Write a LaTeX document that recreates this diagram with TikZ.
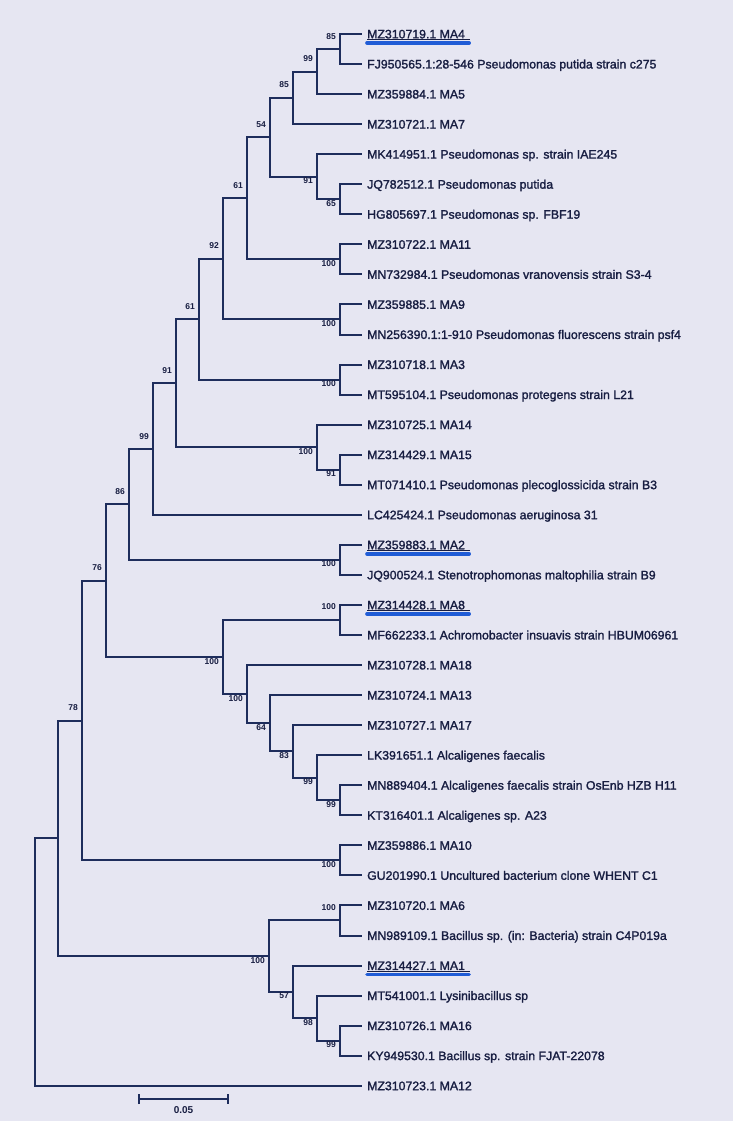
\documentclass[tikz,border=0pt]{standalone}
\usepackage{fontspec}
\setmainfont{Liberation Sans}
\newfontfamily\leaffont[BoldFont={Liberation Sans},BoldFeatures={FakeBold=1.6}]{Liberation Sans}
\usetikzlibrary{arrows.meta}
\definecolor{bg}{RGB}{230,230,242}
\definecolor{ln}{RGB}{30,45,92}
\definecolor{tx}{RGB}{24,30,66}
\definecolor{hl}{RGB}{32,92,214}
\begin{document}
\begin{tikzpicture}[x=1pt,y=-1pt,
  branch/.style={draw=ln,line width=2pt},
  leaf/.style={anchor=west,inner xsep=5pt,inner ysep=0pt,text=tx,
    font=\leaffont\bfseries\fontsize{12.3}{14}\selectfont,text height=8.8pt,text depth=0pt},
  bsa/.style={anchor=base east,inner sep=0pt,text=tx,
    font=\fontsize{8.5}{10}\bfseries\selectfont,xshift=-4pt,yshift=10pt},
  bsb/.style={bsa,yshift=-17pt},
  hlline/.style={draw=hl,line width=3.6pt,line cap=round},
  ulline/.style={draw=tx,line width=0.7pt}]
\fill[bg] (0,0) rectangle (733,1121);
\useasboundingbox (0,0) rectangle (733,1121);
% leaves
\foreach \i/\t in {
 0/{MZ310719.1 MA4},
 1/{FJ950565.1:28-546 Pseudomonas putida strain c275},
 2/{MZ359884.1 MA5},
 3/{MZ310721.1 MA7},
 4/{MK414951.1 Pseudomonas sp. strain IAE245},
 5/{JQ782512.1 Pseudomonas putida},
 6/{HG805697.1 Pseudomonas sp. FBF19},
 7/{MZ310722.1 MA11},
 8/{MN732984.1 Pseudomonas vranovensis strain S3-4},
 9/{MZ359885.1 MA9},
 10/{MN256390.1:1-910 Pseudomonas fluorescens strain psf4},
 11/{MZ310718.1 MA3},
 12/{MT595104.1 Pseudomonas protegens strain L21},
 13/{MZ310725.1 MA14},
 14/{MZ314429.1 MA15},
 15/{MT071410.1 Pseudomonas plecoglossicida strain B3},
 16/{LC425424.1 Pseudomonas aeruginosa 31},
 17/{MZ359883.1 MA2},
 18/{JQ900524.1 Stenotrophomonas maltophilia strain B9},
 19/{MZ314428.1 MA8},
 20/{MF662233.1 Achromobacter insuavis strain HBUM06961},
 21/{MZ310728.1 MA18},
 22/{MZ310724.1 MA13},
 23/{MZ310727.1 MA17},
 24/{LK391651.1 Alcaligenes faecalis},
 25/{MN889404.1 Alcaligenes faecalis strain OsEnb HZB H11},
 26/{KT316401.1 Alcaligenes sp. A23},
 27/{MZ359886.1 MA10},
 28/{GU201990.1 Uncultured bacterium clone WHENT C1},
 29/{MZ310720.1 MA6},
 30/{MN989109.1 Bacillus sp. (in: Bacteria) strain C4P019a},
 31/{MZ314427.1 MA1},
 32/{MT541001.1 Lysinibacillus sp},
 33/{MZ310726.1 MA16},
 34/{KY949530.1 Bacillus sp. strain FJAT-22078},
 35/{MZ310723.1 MA12}}
 \node[leaf] (l\i) at (362,{34+30.05*\i}) {\t};
% internal nodes
\coordinate (A) at (340,49.03);
\coordinate (B) at (317,71.56);
\coordinate (C) at (293,97.86);
\coordinate (D) at (340,199.28);
\coordinate (E) at (317,176.74);
\coordinate (F) at (270,137.30);
\coordinate (G) at (340,259.38);
\coordinate (H) at (247,198.34);
\coordinate (J) at (340,319.48);
\coordinate (I) at (223,258.91);
\coordinate (L) at (340,379.58);
\coordinate (K) at (199,319.24);
\coordinate (O) at (340,469.73);
\coordinate (N) at (317,447.19);
\coordinate (M) at (176,383.22);
\coordinate (P) at (153,449.01);
\coordinate (R) at (340,559.88);
\coordinate (Q) at (129,504.44);
\coordinate (T) at (340,619.98);
\coordinate (Z) at (340,800.28);
\coordinate (Y) at (317,777.74);
\coordinate (X) at (293,751.45);
\coordinate (W) at (270,723.28);
\coordinate (V) at (247,694.17);
\coordinate (U) at (223,657.08);
\coordinate (S) at (106,580.76);
\coordinate (AA) at (340,860.38);
\coordinate (NB) at (82,720.57);
\coordinate (BB) at (340,920.48);
\coordinate (CC) at (340,1040.68);
\coordinate (DD) at (317,1018.14);
\coordinate (EE) at (293,991.85);
\coordinate (FF) at (269,956.17);
\coordinate (NC) at (58,838.37);
\coordinate (RT) at (35,962.06);
% branches
\foreach \p/\c in {A/l0.west,A/l1.west,B/A,B/l2.west,C/B,C/l3.west,
  D/l5.west,D/l6.west,E/l4.west,E/D,F/C,F/E,G/l7.west,G/l8.west,H/F,H/G,
  J/l9.west,J/l10.west,I/H,I/J,L/l11.west,L/l12.west,K/I,K/L,
  O/l14.west,O/l15.west,N/l13.west,N/O,M/K,M/N,P/M,P/l16.west,
  R/l17.west,R/l18.west,Q/P,Q/R,T/l19.west,T/l20.west,
  Z/l25.west,Z/l26.west,Y/l24.west,Y/Z,X/l23.west,X/Y,W/l22.west,W/X,
  V/l21.west,V/W,U/T,U/V,S/Q,S/U,AA/l27.west,AA/l28.west,NB/S,NB/AA,
  BB/l29.west,BB/l30.west,CC/l33.west,CC/l34.west,DD/l32.west,DD/CC,
  EE/l31.west,EE/DD,FF/BB,FF/EE,NC/NB,NC/FF,RT/NC,RT/l35.west}
  \draw[branch] (\p) |- (\c);
% bootstrap values
\foreach \n/\v in {A/85,B/99,C/85,F/54,H/61,I/92,K/61,M/91,P/99,Q/86,S/76,NB/78,T/100,BB/100}
  \node[bsa] (b\n) at (\n) {\v};
\foreach \n/\v in {D/65,E/91,G/100,J/100,L/100,O/91,N/100,R/100,U/100,V/100,W/64,X/83,Y/99,Z/99,AA/100,FF/100,EE/57,DD/98,CC/99}
  \node[bsb] (b\n) at (\n) {\v};
% highlighted isolates
\foreach \i in {0,17,19,31}{
  \draw[ulline] ([xshift=5pt,yshift=-5.6pt]l\i.west) -- ([yshift=-5.6pt]l\i.east);
  \draw[hlline] ([xshift=5pt,yshift=-9pt]l\i.west) -- ([xshift=-1pt,yshift=-9pt]l\i.east);
}
% scale bar
\coordinate (sb1) at (138,1099);
\coordinate (sb2) at (229,1099);
\draw[branch,line width=2pt,{Bar[width=10pt,line width=2.4pt]}-{Bar[width=10pt,line width=2.4pt]}] (sb1) -- (sb2);
\node[anchor=base,inner sep=0pt,text=tx,font=\fontsize{10}{12}\bfseries\selectfont] (sbl) at (183.5,1113) {0.05};
\end{tikzpicture}
\end{document}
